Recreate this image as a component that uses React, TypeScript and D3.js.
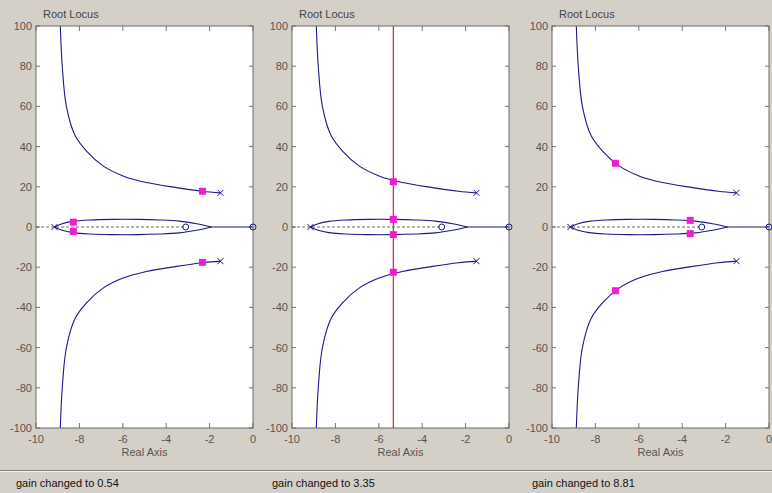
import React from "react";
import * as d3 from "d3";

const xTicks = [-10, -8, -6, -4, -2, 0];
const yTicks = [-100, -80, -60, -40, -20, 0, 20, 40, 60, 80, 100];

// upper complex branch (from pole toward asymptote)
const upperBranch: [number, number][] = [
  [-1.5, 17.0], [-2.33, 17.8], [-3.52, 19.6], [-4.91, 22.1], [-5.99, 25.4],
  [-6.91, 30.4], [-7.65, 37.5], [-8.2, 45.5], [-8.6, 60.0], [-8.79, 80.0], [-8.88, 100.0],
];
const lowerBranch: [number, number][] = [
  [-1.5, -17.0], [-2.33, -17.8], [-3.52, -19.6], [-4.91, -22.1], [-5.99, -25.4],
  [-6.91, -30.4], [-7.65, -37.5], [-8.2, -45.5], [-8.6, -60.0], [-8.79, -80.0], [-8.88, -100.0],
];
// closed loop near the real axis
const loopUpper: [number, number][] = [
  [-9.15, 0], [-8.8, 1.6], [-8.3, 2.8], [-7.5, 3.5], [-6.5, 3.8], [-5.3, 3.8],
  [-4.3, 3.5], [-3.4, 2.9], [-2.6, 1.6], [-1.9, 0],
];
const loopLower: [number, number][] = [
  [-9.15, 0], [-8.8, -1.6], [-8.3, -2.8], [-7.5, -3.5], [-6.5, -3.8], [-5.3, -3.8],
  [-4.3, -3.5], [-3.4, -2.9], [-2.6, -1.6], [-1.9, 0],
];
const realSolid: [number, number][] = [[-1.9, 0], [0, 0]];
const realDashed: [number, number][] = [[-10, 0], [-3.1, 0]];

const poles: [number, number][] = [[-9.15, 0], [-1.5, 17.0], [-1.5, -17.0]];
const zeros: [number, number][] = [[-3.1, 0], [0, 0]];

const gains = ["0.54", "3.35", "8.81"];
const gainMarkers: [number, number][][] = [
  [[-2.33, 17.8], [-2.33, -17.6], [-8.28, 2.4], [-8.28, -2.2]],
  [[-5.33, 22.5], [-5.33, -22.5], [-5.33, 3.8], [-5.33, -3.8]],
  [[-7.08, 31.7], [-7.08, -31.7], [-3.63, 3.3], [-3.63, -3.3]],
];
const cursorX: (number | null)[] = [null, -5.33, null];

const W = 772;
const H = 493;
const panelLefts = [36, 292, 552];
const panelW = 217;
const top = 26;
const bottom = 428;
const FONT = "Arial, 'Liberation Sans', sans-serif";
const NAVY = "#1a1a8a";
const MAGENTA = "#f01ccf";

function Panel({ idx }: { idx: number }) {
  const left = panelLefts[idx];
  const x = d3.scaleLinear().domain([-10, 0]).range([left, left + panelW]);
  const y = d3.scaleLinear().domain([-100, 100]).range([bottom, top]);
  const line = d3.line<[number, number]>().x((d) => x(d[0])).y((d) => y(d[1]));
  const smooth = d3
    .line<[number, number]>()
    .x((d) => x(d[0]))
    .y((d) => y(d[1]))
    .curve(d3.curveCatmullRom);
  const cx = cursorX[idx];
  const clipId = `clip${idx}`;
  return (
    <g>
      <defs>
        <clipPath id={clipId}>
          <rect x={left} y={top} width={panelW} height={bottom - top} />
        </clipPath>
      </defs>
      <rect x={left} y={top} width={panelW} height={bottom - top} fill="#fff" />
      <text x={left + 7} y={18} fontSize={11} fill="#444" fontFamily={FONT}>
        Root Locus
      </text>
      {/* ticks */}
      {xTicks.map((t) => (
        <g key={"xt" + t}>
          <line x1={x(t)} x2={x(t)} y1={bottom} y2={bottom - 5} stroke="#777" />
          <line x1={x(t)} x2={x(t)} y1={top} y2={top + 5} stroke="#777" />
          <text x={x(t)} y={443} fontSize={11} fill="#555" textAnchor="middle" fontFamily={FONT}>
            {t}
          </text>
        </g>
      ))}
      {yTicks.map((t) => (
        <g key={"yt" + t}>
          <line x1={left} x2={left + 4} y1={y(t)} y2={y(t)} stroke="#777" />
          <line x1={left + panelW} x2={left + panelW - 4} y1={y(t)} y2={y(t)} stroke="#777" />
          <text x={left - 4} y={y(t) + 4} fontSize={11} fill="#555" textAnchor="end" fontFamily={FONT}>
            {t}
          </text>
        </g>
      ))}
      <text x={left + panelW / 2} y={456} fontSize={11} fill="#555" textAnchor="middle" fontFamily={FONT}>
        Real Axis
      </text>
      <g clipPath={`url(#${clipId})`}>
        <path d={line(realDashed)!} stroke="#444" strokeDasharray="3,2" fill="none" strokeWidth={0.8} />
        <path d={smooth(upperBranch)!} stroke={NAVY} fill="none" strokeWidth={1.1} />
        <path d={smooth(lowerBranch)!} stroke={NAVY} fill="none" strokeWidth={1.1} />
        <path d={smooth(loopUpper)!} stroke={NAVY} fill="none" strokeWidth={1.1} />
        <path d={smooth(loopLower)!} stroke={NAVY} fill="none" strokeWidth={1.1} />
        <path d={line(realSolid)!} stroke={NAVY} fill="none" strokeWidth={1.1} />
        {cx !== null && (
          <line x1={x(cx)} x2={x(cx)} y1={top} y2={bottom} stroke="#e0202a" strokeWidth={1.2} />
        )}
      </g>
      <rect x={left} y={top} width={panelW} height={bottom - top} fill="none" stroke="#6a6a6a" strokeWidth={1} />
      {poles.map((p, i) => (
        <g key={"p" + i} stroke={NAVY} strokeWidth={1}>
          <line x1={x(p[0]) - 3} x2={x(p[0]) + 3} y1={y(p[1]) - 3} y2={y(p[1]) + 3} />
          <line x1={x(p[0]) - 3} x2={x(p[0]) + 3} y1={y(p[1]) + 3} y2={y(p[1]) - 3} />
        </g>
      ))}
      {zeros.map((z, i) => (
        <circle key={"z" + i} cx={x(z[0])} cy={y(z[1])} r={3} fill="none" stroke={NAVY} strokeWidth={1} />
      ))}
      {gainMarkers[idx].map((m, i) => (
        <rect key={"m" + i} x={x(m[0]) - 3.5} y={y(m[1]) - 3.5} width={7} height={7} fill={MAGENTA} />
      ))}
      <text x={left - 20} y={487} fontSize={11} fill="#111" fontFamily={FONT}>
        {`gain changed to ${gains[idx]}`}
      </text>
    </g>
  );
}

export default function App() {
  return (
    <div style={{ position: "fixed", left: 0, top: 0 }}>
      <svg width={W} height={H} style={{ display: "block" }}>
        <rect x={0} y={0} width={W} height={H} fill="#d4d0c8" />
        <line x1={0} x2={W} y1={470.5} y2={470.5} stroke="#808080" />
        <line x1={0} x2={W} y1={471.5} y2={471.5} stroke="#f4f3ef" />
        {[0, 1, 2].map((i) => (
          <Panel key={i} idx={i} />
        ))}
      </svg>
    </div>
  );
}
